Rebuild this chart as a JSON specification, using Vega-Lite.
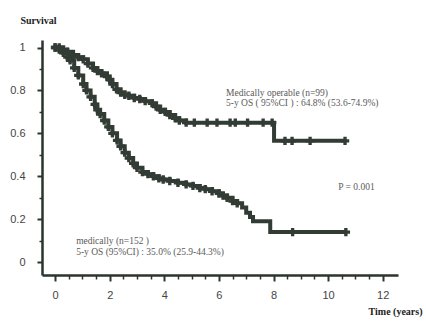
{
  "$schema": "https://vega.github.io/schema/vega-lite/v6.json",
  "width": 356,
  "height": 235,
  "autosize": {"type": "none"},
  "padding": {"left": 42, "top": 40, "right": 28, "bottom": 46},
  "background": "white",
  "config": {"view": {"stroke": null}},
  "datasets": {
    "curves": [
      {"group": "operable", "t": 0, "s": 1.0, "censor": 1},
      {"group": "operable", "t": 0.15, "s": 1.0, "censor": 1},
      {"group": "operable", "t": 0.3, "s": 0.99, "censor": 1},
      {"group": "operable", "t": 0.45, "s": 0.98, "censor": 1},
      {"group": "operable", "t": 0.66, "s": 0.965, "censor": 1},
      {"group": "operable", "t": 0.85, "s": 0.955, "censor": 1},
      {"group": "operable", "t": 1.03, "s": 0.945, "censor": 1},
      {"group": "operable", "t": 1.2, "s": 0.925, "censor": 1},
      {"group": "operable", "t": 1.39, "s": 0.905, "censor": 1},
      {"group": "operable", "t": 1.55, "s": 0.89, "censor": 1},
      {"group": "operable", "t": 1.7, "s": 0.88, "censor": 1},
      {"group": "operable", "t": 1.9, "s": 0.865, "censor": 1},
      {"group": "operable", "t": 2.0, "s": 0.85, "censor": 1},
      {"group": "operable", "t": 2.1, "s": 0.83, "censor": 1},
      {"group": "operable", "t": 2.25, "s": 0.805, "censor": 1},
      {"group": "operable", "t": 2.4, "s": 0.79, "censor": 1},
      {"group": "operable", "t": 2.55, "s": 0.78, "censor": 1},
      {"group": "operable", "t": 2.7, "s": 0.775, "censor": 1},
      {"group": "operable", "t": 2.9, "s": 0.765, "censor": 1},
      {"group": "operable", "t": 3.1, "s": 0.76, "censor": 1},
      {"group": "operable", "t": 3.3, "s": 0.75, "censor": 1},
      {"group": "operable", "t": 3.55, "s": 0.74, "censor": 1},
      {"group": "operable", "t": 3.7, "s": 0.725, "censor": 1},
      {"group": "operable", "t": 3.85, "s": 0.71, "censor": 1},
      {"group": "operable", "t": 4.03, "s": 0.7, "censor": 1},
      {"group": "operable", "t": 4.2, "s": 0.685, "censor": 1},
      {"group": "operable", "t": 4.4, "s": 0.67, "censor": 1},
      {"group": "operable", "t": 4.55, "s": 0.66, "censor": 1},
      {"group": "operable", "t": 4.8, "s": 0.65, "censor": 1},
      {"group": "operable", "t": 5.1, "s": 0.65, "censor": 1},
      {"group": "operable", "t": 5.57, "s": 0.65, "censor": 1},
      {"group": "operable", "t": 5.93, "s": 0.65, "censor": 1},
      {"group": "operable", "t": 6.41, "s": 0.65, "censor": 1},
      {"group": "operable", "t": 6.6, "s": 0.65, "censor": 1},
      {"group": "operable", "t": 7.05, "s": 0.65, "censor": 1},
      {"group": "operable", "t": 7.62, "s": 0.65, "censor": 1},
      {"group": "operable", "t": 7.95, "s": 0.65, "censor": 1},
      {"group": "operable", "t": 8.02, "s": 0.565, "censor": 0},
      {"group": "operable", "t": 8.42, "s": 0.565, "censor": 1},
      {"group": "operable", "t": 8.68, "s": 0.565, "censor": 1},
      {"group": "operable", "t": 9.34, "s": 0.565, "censor": 1},
      {"group": "operable", "t": 10.62, "s": 0.565, "censor": 1},
      {"group": "inoperable", "t": 0, "s": 1.0, "censor": 1},
      {"group": "inoperable", "t": 0.15, "s": 0.99, "censor": 1},
      {"group": "inoperable", "t": 0.3, "s": 0.975, "censor": 1},
      {"group": "inoperable", "t": 0.45, "s": 0.955, "censor": 1},
      {"group": "inoperable", "t": 0.55, "s": 0.94, "censor": 1},
      {"group": "inoperable", "t": 0.7, "s": 0.905, "censor": 1},
      {"group": "inoperable", "t": 0.85, "s": 0.87, "censor": 1},
      {"group": "inoperable", "t": 1.03, "s": 0.83, "censor": 1},
      {"group": "inoperable", "t": 1.15, "s": 0.8, "censor": 1},
      {"group": "inoperable", "t": 1.3, "s": 0.77, "censor": 1},
      {"group": "inoperable", "t": 1.45, "s": 0.735, "censor": 1},
      {"group": "inoperable", "t": 1.55, "s": 0.71, "censor": 1},
      {"group": "inoperable", "t": 1.65, "s": 0.69, "censor": 1},
      {"group": "inoperable", "t": 1.8, "s": 0.66, "censor": 1},
      {"group": "inoperable", "t": 1.95, "s": 0.63, "censor": 1},
      {"group": "inoperable", "t": 2.1, "s": 0.6, "censor": 1},
      {"group": "inoperable", "t": 2.27, "s": 0.567, "censor": 1},
      {"group": "inoperable", "t": 2.4, "s": 0.54, "censor": 1},
      {"group": "inoperable", "t": 2.55, "s": 0.51, "censor": 1},
      {"group": "inoperable", "t": 2.7, "s": 0.485, "censor": 1},
      {"group": "inoperable", "t": 2.86, "s": 0.46, "censor": 1},
      {"group": "inoperable", "t": 3.0, "s": 0.44, "censor": 1},
      {"group": "inoperable", "t": 3.2, "s": 0.42, "censor": 1},
      {"group": "inoperable", "t": 3.4, "s": 0.41, "censor": 1},
      {"group": "inoperable", "t": 3.6, "s": 0.4, "censor": 1},
      {"group": "inoperable", "t": 3.8, "s": 0.39, "censor": 1},
      {"group": "inoperable", "t": 3.96, "s": 0.385, "censor": 1},
      {"group": "inoperable", "t": 4.2, "s": 0.378, "censor": 1},
      {"group": "inoperable", "t": 4.5, "s": 0.37, "censor": 1},
      {"group": "inoperable", "t": 4.8, "s": 0.362, "censor": 1},
      {"group": "inoperable", "t": 5.05, "s": 0.355, "censor": 1},
      {"group": "inoperable", "t": 5.3, "s": 0.345, "censor": 1},
      {"group": "inoperable", "t": 5.5, "s": 0.34, "censor": 1},
      {"group": "inoperable", "t": 5.75, "s": 0.33, "censor": 1},
      {"group": "inoperable", "t": 6.0, "s": 0.32, "censor": 1},
      {"group": "inoperable", "t": 6.15, "s": 0.31, "censor": 1},
      {"group": "inoperable", "t": 6.3, "s": 0.3, "censor": 1},
      {"group": "inoperable", "t": 6.5, "s": 0.285, "censor": 1},
      {"group": "inoperable", "t": 6.67, "s": 0.274, "censor": 1},
      {"group": "inoperable", "t": 6.85, "s": 0.255, "censor": 0},
      {"group": "inoperable", "t": 7.0, "s": 0.23, "censor": 0},
      {"group": "inoperable", "t": 7.14, "s": 0.21, "censor": 0},
      {"group": "inoperable", "t": 7.25, "s": 0.19, "censor": 0},
      {"group": "inoperable", "t": 7.88, "s": 0.14, "censor": 0},
      {"group": "inoperable", "t": 8.7, "s": 0.14, "censor": 1},
      {"group": "inoperable", "t": 10.65, "s": 0.14, "censor": 1}
    ],
    "notes": [
      {"t": 6.26, "s": 0.79, "label": "Medically operable (n=99)"},
      {"t": 6.26, "s": 0.74, "label": "5-y OS ( 95%CI ) : 64.8% (53.6-74.9%)"},
      {"t": 0.77, "s": 0.098, "label": "medically (n=152 )"},
      {"t": 0.77, "s": 0.047, "label": "5-y OS (95%CI) : 35.0% (25.9-44.3%)"},
      {"t": 10.37, "s": 0.349, "label": "P = 0.001"}
    ]
  },
  "layer": [
    {
      "data": {"name": "curves"},
      "mark": {"type": "line", "interpolate": "step-after", "strokeWidth": 4, "color": "#323c35"},
      "encoding": {
        "x": {
          "field": "t", "type": "quantitative",
          "scale": {"domain": [-0.48, 12.56], "nice": false, "zero": false},
          "axis": {
            "orient": "bottom",
            "values": [0, 2, 4, 6, 8, 10, 12],
            "format": "~g",
            "grid": false,
            "domainColor": "#2a352d", "domainWidth": 2.5,
            "tickColor": "#2a352d", "tickWidth": 2, "tickSize": 6,
            "labelFont": "Liberation Sans", "labelFontSize": 11, "labelColor": "#444444",
            "labelPadding": 8,
            "title": "Time (years)",
            "titleFont": "Liberation Serif", "titleFontSize": 10, "titleFontWeight": "bold", "titleColor": "#222222",
            "titleAnchor": "end", "titleAlign": "right", "titleX": 380, "titleY": 36, "titleBaseline": "middle"
          }
        },
        "y": {
          "field": "s", "type": "quantitative",
          "scale": {"domain": [-0.06, 1.035], "nice": false, "zero": false},
          "axis": {
            "orient": "left",
            "values": [0, 0.2, 0.4, 0.6, 0.8, 1],
            "format": "~g",
            "grid": false,
            "domainColor": "#2a352d", "domainWidth": 2.5,
            "tickColor": "#2a352d", "tickWidth": 2, "tickSize": 5,
            "labelFont": "Liberation Sans", "labelFontSize": 11, "labelColor": "#444444",
            "labelPadding": 12,
            "title": "Survival",
            "titleFont": "Liberation Serif", "titleFontSize": 10, "titleFontWeight": "bold", "titleColor": "#222222",
            "titleAngle": 0, "titleAlign": "left", "titleX": -22, "titleY": -20, "titleBaseline": "middle"
          }
        },
        "detail": {"field": "group", "type": "nominal"}
      }
    },
    {
      "data": {"name": "curves"},
      "transform": [{"filter": "datum.censor == 1"}],
      "mark": {"type": "point", "shape": "cross", "filled": true, "size": 70, "color": "#323c35", "opacity": 1},
      "encoding": {
        "x": {
          "field": "t", "type": "quantitative",
          "axis": {
            "orient": "bottom",
            "values": [0.5, 1, 1.5, 2.5, 3, 3.5, 4.5, 5, 5.5, 6.5, 7, 7.5, 8.5, 9, 9.5, 10.5, 11, 11.5],
            "domain": false, "labels": false, "grid": false, "title": null,
            "tickColor": "#2a352d", "tickWidth": 1.5, "tickSize": 4
          }
        },
        "y": {
          "field": "s", "type": "quantitative",
          "axis": {
            "orient": "left",
            "values": [0.1, 0.3, 0.5, 0.7, 0.9],
            "domain": false, "labels": false, "grid": false, "title": null,
            "tickColor": "#2a352d", "tickWidth": 1.5, "tickSize": 3
          }
        },
        "detail": {"field": "group", "type": "nominal"}
      }
    },
    {
      "data": {"name": "notes"},
      "mark": {"type": "text", "align": "left", "baseline": "middle", "font": "Liberation Serif", "fontSize": 9.5, "color": "#5a5a5a"},
      "encoding": {
        "x": {"field": "t", "type": "quantitative", "axis": null},
        "y": {"field": "s", "type": "quantitative", "axis": null},
        "text": {"field": "label", "type": "nominal"}
      }
    }
  ],
  "resolve": {"axis": {"x": "independent", "y": "independent"}}
}
